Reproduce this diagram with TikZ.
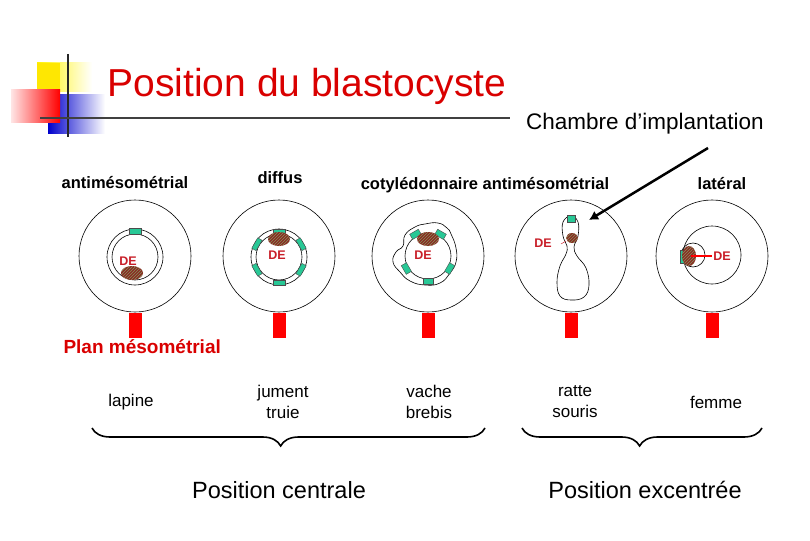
\documentclass[tikz,border=0pt]{standalone}
\usepackage{fontspec}
\setmainfont{Liberation Sans}
\usetikzlibrary{patterns,decorations.pathreplacing,calc,arrows.meta}
\definecolor{grn}{RGB}{40,200,150}
\definecolor{dered}{RGB}{200,30,40}
\definecolor{emb}{RGB}{140,40,35}
\definecolor{hatch}{RGB}{130,150,90}
\begin{document}
\begin{tikzpicture}[x=1pt,y=-1pt,
  ring/.style={draw=black,line width=0.6pt},
  blk/.style={fill=grn,draw=black!70,line width=0.4pt},
  bar/.style={fill=red,draw=none},
  lab/.style={font=\bfseries\fontsize{16.5}{19}\selectfont,anchor=base},
  sp/.style={font=\fontsize{17}{21}\selectfont,align=center},
  de/.style={text=dered,font=\bfseries\fontsize{12.5}{14}\selectfont},
  big/.style={font=\fontsize{23.5}{27}\selectfont}]
\useasboundingbox (0,0) rectangle (810,540);
\newcommand{\embryo}[4]{% x,y,rx,ry
  \fill[emb] (#1,#2) ellipse[x radius=#3,y radius=#4];
  \pattern[pattern=north east lines,pattern color=hatch] (#1,#2) ellipse[x radius=#3,y radius=#4];}
% logo
\shade[left color=yellow!90!orange,right color=white] (37,63) rectangle (92,92);
\fill[yellow!90!orange] (37,63) rectangle (60,92);
\shade[left color=blue!80!black,right color=white] (48,95) rectangle (105,134);
\shade[left color=red!10,right color=red] (11,90) rectangle (60,123);
\draw[line width=2.5pt,black!85] (68,54) -- (68,137);
\draw[line width=2.5pt,black!75] (40,118) -- (510,118);
\node[anchor=base west,text=red!85!black,font=\fontsize{39}{42}\selectfont] (title) at (104,97) {Position du blastocyste};
\node[anchor=base,font=\fontsize{22.5}{26}\selectfont] (ch) at (645,130) {Chambre d’implantation};
% column labels
\node[lab] (l1) at (125,188) {antimésométrial};
\node[lab] (l2) at (280,183) {diffus};
\node[lab] (l3) at (485,189) {cotylédonnaire antimésométrial};
\node[lab] (l5) at (722,189) {latéral};
% circles
\foreach \n/\x in {1/135,2/279,3/428,4/571,5/712}{
  \draw[ring] (\x,256) circle (56);
  \fill[bar] (\x-6.5,313) rectangle (\x+6.5,338);}
% 1
\draw[ring] (135,257) circle (28); \draw[ring] (135,257) circle (23);
\draw[blk] (129,228) rectangle (141,234);
\embryo{132}{273}{11}{7}
\node[de] at (128,261) {DE};
% 2
\draw[ring] (279,257) circle (28); \draw[ring] (279,257) circle (23);
\foreach \a in {90,30,150,-30,210,270}{
  \draw[blk,rotate around={\a-90:(279,257)}] ($(279,257)+(-6,-28)$) rectangle ($(279,257)+(6,-23)$);}
\embryo{279}{239}{11}{7}
\node[de] at (277,255) {DE};
% 3
\draw[ring] (428,256) circle (23);
\draw[ring] plot[smooth cycle,tension=0.8] coordinates{(405,235)(415,227)(425,224)(438,223)(447,228)(451,234)(456,248)(456,262)(450,273)(440,283)(425,285)(410,281)(400,272)(393,262)(396,252)(403,246)};
\foreach \a in {60,120,210,270,330}{
  \draw[blk,rotate around={\a-90:(428,256)}] ($(428,256)+(-5,-28)$) rectangle ($(428,256)+(5,-22)$);}
\embryo{428}{239}{11}{7}
\node[de] at (423,255) {DE};
% 4
\draw[ring] plot[smooth cycle,tension=0.7] coordinates{(571,216)(578,222)(578,236)(574,247)(577,256)(586,268)(589,285)(584,297)(571,300)(560,296)(557,282)(560,266)(566,254)(567,246)(563,236)(563,222)};
\draw[blk] (567,215) rectangle (575,222);
\embryo{572}{238}{6}{5}
\draw[dered,line width=0.5pt] (561,244) -- (566,241);
\node[de] at (543,243) {DE};
% 5
\draw[ring] (712,255) circle (29);
\draw[ring] (693,255) circle (12);
\draw[blk] (680,250) rectangle (685,263);
\embryo{689}{256}{7}{10}
\draw[red,line width=1.2pt] (691,256) -- (712,256);
\node[de] at (722,256) {DE};
% arrow
\coordinate (at) at (708,148);
\coordinate (ah) at (589,220);
\draw[line width=2.5pt,-{Latex[length=9pt,width=10pt]}] (at) -- (ah);
% plan
\node[anchor=base west,text=red!85!black,font=\bfseries\fontsize{19}{22}\selectfont] (plan) at (60,353) {Plan mésométrial};
% species
\node[sp] (s1) at (131,402) {lapine};
\node[sp] (s2) at (283,402) {jument\\truie};
\node[sp] (s3) at (429,402) {vache\\brebis};
\node[sp] (s4) at (575,402) {ratte\\souris};
\node[sp] (s5) at (716,402) {femme};
% braces
\draw[line width=1.6pt,decorate,decoration={brace,mirror,amplitude=18pt,aspect=0.48}] (92,428) -- (485,428);
\draw[line width=1.6pt,decorate,decoration={brace,mirror,amplitude=18pt,aspect=0.49}] (522,428) -- (762,428);
\node[big,anchor=base] (pc) at (279,498) {Position centrale};
\node[big,anchor=base] (pe) at (645,498) {Position excentrée};
\end{tikzpicture}
\end{document}
